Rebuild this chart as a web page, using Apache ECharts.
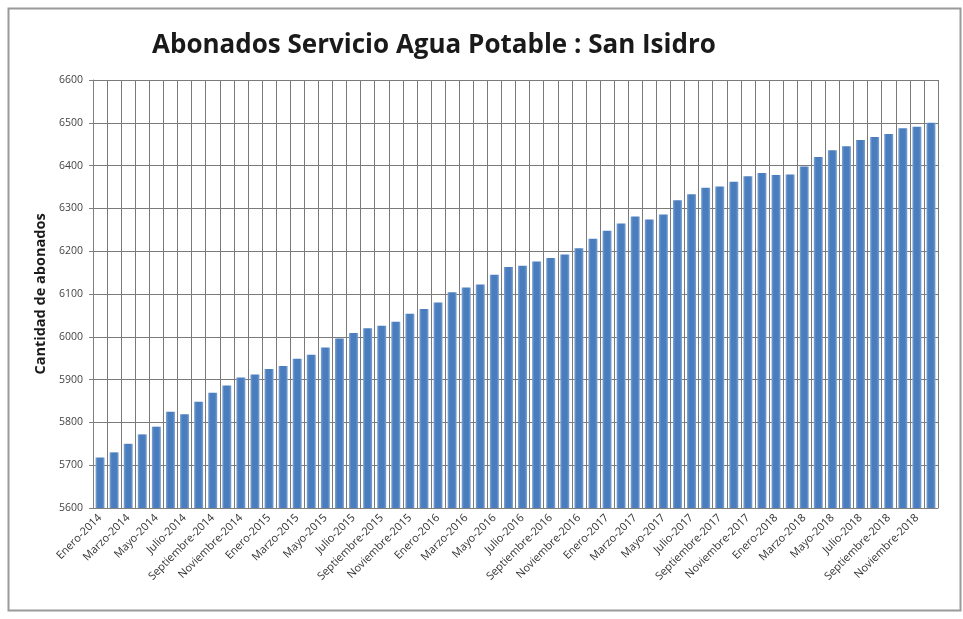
<!DOCTYPE html>
<html><head><meta charset="utf-8">
<script src="https://cdn.jsdelivr.net/npm/echarts@6/dist/echarts.min.js"></script>
<style>html,body{margin:0;padding:0;background:#fff}#c{width:963px;height:619px}</style>
</head><body><div id="c"></div>
<script>
const months = ["Enero","Febrero","Marzo","Abril","Mayo","Junio","Julio","Agosto","Septiembre","Octubre","Noviembre","Diciembre"];
const years = [2014, 2015, 2016, 2017, 2018];
const categories = [];
years.forEach(y => months.forEach(m => categories.push(m + "-" + y)));
const abonados = [
  5718, 5730, 5750, 5772, 5790, 5825, 5819, 5848, 5869, 5886, 5905, 5912,
  5925, 5932, 5949, 5958, 5975, 5996, 6009, 6020, 6026, 6035, 6054, 6065,
  6080, 6104, 6115, 6122, 6145, 6163, 6166, 6176, 6184, 6192, 6207, 6229,
  6248, 6265, 6281, 6274, 6286, 6319, 6333, 6348, 6351, 6362, 6375, 6383,
  6378, 6379, 6398, 6420, 6436, 6445, 6460, 6467, 6474, 6487, 6491, 6500
];
const yMin = 5600, yMax = 6600, yStep = 100;
const titleText = "Abonados Servicio Agua Potable : San Isidro";
const yName = "Cantidad de abonados";

const chart = echarts.init(document.getElementById('c'), null, {renderer: 'canvas'});
chart.setOption({
  animation: false,
  backgroundColor: '#fff',
  graphic: [{
    type: 'rect', left: 6, top: 6,
    shape: {width: 952, height: 602},
    style: {fill: 'none', stroke: '#9a9a9a', lineWidth: 2}
  }],
  title: {
    text: titleText, left: 147, top: 28,
    textStyle: {fontFamily: 'Open Sans', fontWeight: 'bold', fontSize: 26, color: '#1a1a1a'}
  },
  grid: {left: 93, right: 25, top: 80, bottom: 111, containLabel: false},
  xAxis: {
    type: 'category', data: categories, boundaryGap: true,
    axisLine: {show: true, lineStyle: {color: '#808080', width: 1}},
    axisTick: {show: false},
    axisLabel: {interval: 1, rotate: 45, fontFamily: 'Open Sans', fontSize: 11, color: '#333', margin: 8},
    splitLine: {show: true, interval: 0, lineStyle: {color: '#7a7a7a', width: 1}}
  },
  yAxis: {
    type: 'value', min: yMin, max: yMax, interval: yStep,
    name: yName, nameLocation: 'middle', nameGap: 44, nameRotate: 90,
    nameTextStyle: {fontFamily: 'Open Sans', fontWeight: 'bold', fontSize: 14.5, color: '#1a1a1a'},
    axisLine: {show: true, lineStyle: {color: '#808080'}},
    axisTick: {show: true, length: 4, lineStyle: {color: '#808080'}},
    axisLabel: {fontFamily: 'Open Sans', fontSize: 10.5, color: '#444', margin: 10, formatter: v => String(v)},
    splitLine: {show: true, lineStyle: {color: '#7a7a7a', width: 1}}
  },
  series: [{
    type: 'bar', data: abonados, barWidth: 9,
    itemStyle: {
      color: new echarts.graphic.LinearGradient(0, 0, 1, 0, [
        {offset: 0, color: '#7ea4d4'},
        {offset: 0.25, color: '#4a7dbd'},
        {offset: 0.75, color: '#4a7dbd'},
        {offset: 1, color: '#7ea4d4'}
      ])
    }
  }]
});
</script>
</body></html>
